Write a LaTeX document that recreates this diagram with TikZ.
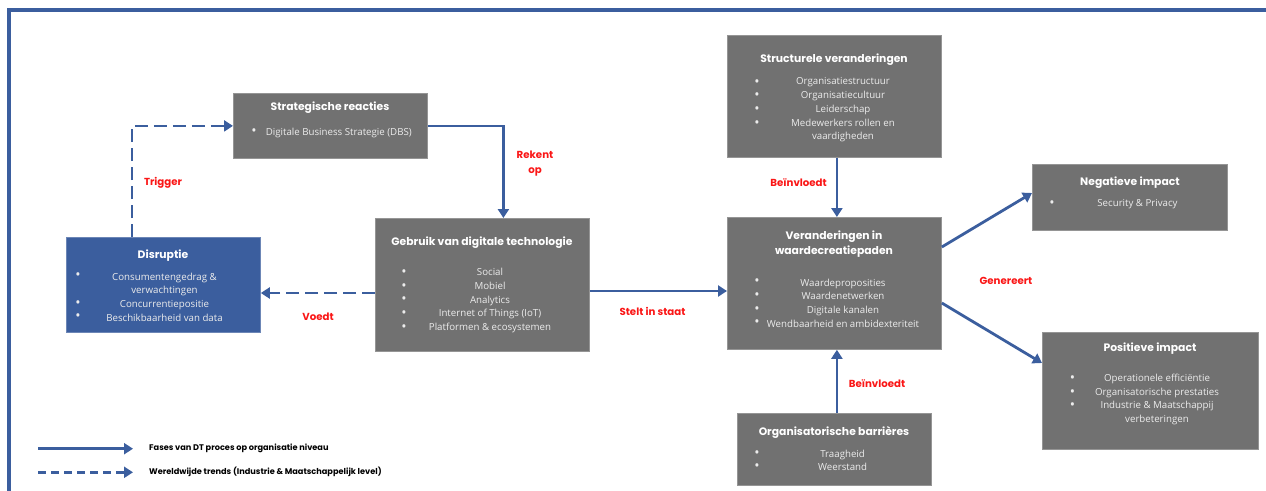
\documentclass[tikz,border=0pt]{standalone}
\usepackage{fontspec}
\setmainfont{Open Sans}
\newfontfamily\hfont{Poppins}
\usetikzlibrary{arrows.meta}
\definecolor{dtblue}{RGB}{59,94,158}
\definecolor{boxgrey}{RGB}{113,113,113}
\definecolor{itemgrey}{RGB}{236,236,236}
\definecolor{lblred}{RGB}{250,22,22}
\begin{document}
\begin{tikzpicture}[x=1pt,y=-1pt,
  frame/.style={draw=dtblue, line width=3.5pt},
  gbox/.style={fill=boxgrey, draw=boxgrey!75!white, line width=0.8pt, anchor=north west, inner sep=0pt},
  bbox/.style={fill=dtblue, draw=dtblue!75!white, line width=0.8pt, anchor=north west, inner sep=0pt},
  ttl/.style={font=\hfont\bfseries\fontsize{10.8}{15}\selectfont, text=white, align=center, inner sep=0pt},
  itm/.style={font=\fontsize{9.7}{13.7}\selectfont, text=itemgrey, align=center, inner sep=0pt},
  bul/.style={font=\fontsize{14}{13.7}\selectfont, text=itemgrey, align=center, inner sep=0pt},
  lbl/.style={font=\hfont\bfseries\fontsize{10.2}{15}\selectfont, text=lblred, align=center, inner sep=0pt},
  leg/.style={font=\hfont\bfseries\fontsize{8.2}{9}\selectfont, text=black, anchor=west, inner sep=0pt},
  flow/.style={draw=dtblue, line width=2.8pt, -{Triangle[length=9pt,width=11pt]}},
  trend/.style={flow, dash pattern=on 13pt off 6pt},
  legtrend/.style={flow, dash pattern=on 8pt off 5pt}
]
\useasboundingbox (0,0) rectangle (1266,490);
\clip (0,0) rectangle (1266,490);
\draw[frame] (1280,10) -- (9,10) -- (9,500);

% Strategische reacties
\node[gbox, minimum width=194pt, minimum height=65pt] (sr) at (233,93) {};
\node[ttl] (srt) at (330,108) {Strategische reacties};
\node[bul] (srb) at (254,132.5) {•};
\node[itm] (sri) at (338.8,132.5) {Digitale Business Strategie (DBS)};

% Gebruik van digitale technologie
\node[gbox, minimum width=214pt, minimum height=133pt] (gd) at (375,218) {};
\node[ttl] (gdt) at (482,243) {Gebruik van digitale technologie};
\node[bul] (gdb) at (404,300.5) {•\\•\\•\\•\\•};
\node[itm] (gdi) at (490,300.5) {Social\\Mobiel\\Analytics\\Internet of Things (IoT)\\Platformen \& ecosystemen};

% Disruptie
\node[bbox, minimum width=194pt, minimum height=95pt] (ds) at (66,237) {};
\node[ttl] (dst) at (163,256) {Disruptie};
\node[bul] (dsb) at (78,297) {•\\\mbox{}\\•\\•};
\node[itm] (dsi) at (164.5,297) {Consumentengedrag \&\\verwachtingen\\Concurrentiepositie\\Beschikbaarheid van data};

% Structurele veranderingen
\node[gbox, minimum width=214pt, minimum height=122pt] (st) at (727,35) {};
\node[ttl] (stt) at (834,60) {Structurele veranderingen};
\node[bul] (stb) at (757,110) {•\\•\\•\\•\\\mbox{}};
\node[itm] (sti) at (843,110) {Organisatiestructuur\\Organisatiecultuur\\Leiderschap\\Medewerkers rollen en\\vaardigheden};

% Veranderingen in waardecreatiepaden
\node[gbox, minimum width=214pt, minimum height=132pt] (vw) at (727,217) {};
\node[ttl] (vwt) at (834,244.2) {Veranderingen in\\waardecreatiepaden};
\node[bul] (vwb) at (757,303) {•\\•\\•\\•};
\node[itm] (vwi) at (843,303) {Waardeproposities\\Waardenetwerken\\Digitale kanalen\\Wendbaarheid en ambidexteriteit};

% Negatieve impact
\node[gbox, minimum width=195pt, minimum height=66pt] (ni) at (1032,164) {};
\node[ttl] (nit) at (1130,183) {Negatieve impact};
\node[bul] (nib) at (1052,204.5) {•};
\node[itm] (nii) at (1137.5,204.5) {Security \& Privacy};

% Positieve impact
\node[gbox, minimum width=216pt, minimum height=117pt] (pi) at (1042,332) {};
\node[ttl] (pit) at (1150,349) {Positieve impact};
\node[bul] (pib) at (1072.6,399.5) {•\\•\\•\\\mbox{}};
\node[itm] (pii) at (1157,399.5) {Operationele efficiëntie\\Organisatorische prestaties\\Industrie \& Maatschappij\\verbeteringen};

% Organisatorische barrieres
\node[gbox, minimum width=194pt, minimum height=72pt] (ob) at (737,413) {};
\node[ttl] (obt) at (834,432) {Organisatorische barrières};
\node[bul] (obb) at (757,460.5) {•\\•};
\node[itm] (obi) at (842.6,460.5) {Traagheid\\Weerstand};

% Connectors
\draw[trend] ([xshift=-31.5pt]ds.north) |- (sr.west);
\draw[flow] (sr.east) -| ([xshift=21pt]gd.north);
\draw[trend] (gd.west |- 0,293) -- (ds.east |- 0,293);
\draw[flow] (gd.east |- 0,291) -- (vw.west |- 0,291);
\draw[flow] ([xshift=2.5pt]st.south) -- ([xshift=2.5pt]vw.north);
\draw[flow] ([xshift=2.5pt]ob.north) -- ([xshift=2.5pt]vw.south);
\draw[flow] (vw.east |- 0,247) -- (ni.west |- 0,193);
\draw[flow] (vw.east |- 0,303) -- (pi.west |- 0,363);

% Labels
\node[lbl] (l1) at (163,183) {Trigger};
\node[lbl] (l2) at (535,163.5) {Rekent\\op};
\node[lbl] (l3) at (318,317) {Voedt};
\node[lbl] (l4) at (652.5,311.5) {Stelt in staat};
\node[lbl] (l5) at (798.6,182.7) {Beïnvloedt};
\node[lbl] (l6) at (877,384) {Beïnvloedt};
\node[lbl] (l7) at (1006,281) {Genereert};

% Legend
\coordinate (la1) at (38,448.7);
\coordinate (la2) at (133,448.7);
\coordinate (lb1) at (38,472.3);
\coordinate (lb2) at (133,472.3);
\draw[flow] (la1) -- (la2);
\draw[legtrend] (lb1) -- (lb2);
\node[leg] (lt1) at (149,448.2) {Fases van DT proces op organisatie niveau};
\node[leg] (lt2) at (149,472) {Wereldwijde trends (Industrie \& Maatschappelijk level)};
\end{tikzpicture}
\end{document}
